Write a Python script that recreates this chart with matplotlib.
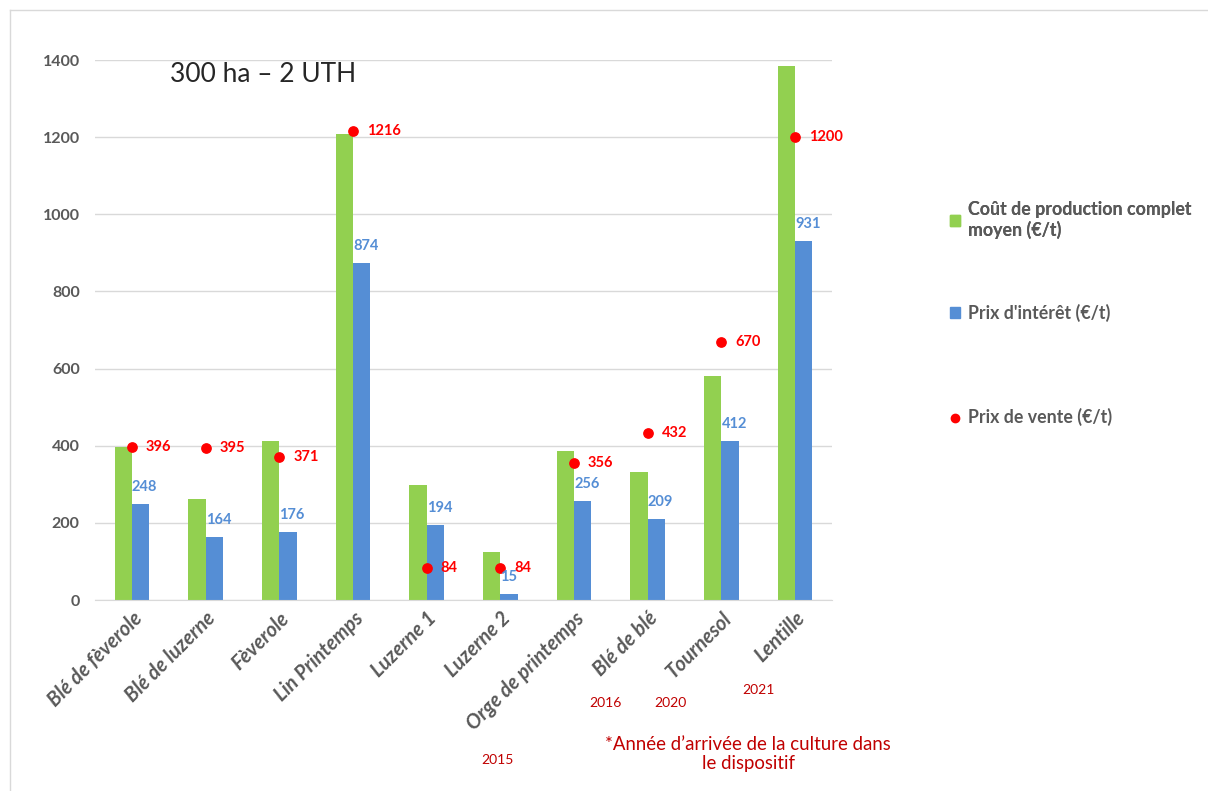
import numpy as np
import matplotlib.pyplot as plt
from matplotlib.lines import Line2D
from matplotlib.patches import Patch

plt.rcParams['font.family'] = ['Lato', 'DejaVu Sans']

# Data
cultures = ['Blé de fèverole', 'Blé de luzerne', 'Fèverole', 'Lin Printemps', 'Luzerne 1',
            'Luzerne 2', 'Orge de printemps', 'Blé de blé', 'Tournesol', 'Lentille']
cout_prod = [397, 262, 412, 1207, 298, 125, 387, 331, 581, 1384]
prix_interet = [248, 164, 176, 874, 194, 15, 256, 209, 412, 931]
prix_vente = [396, 395, 371, 1216, 84, 84, 356, 432, 670, 1200]
annees = {'2015': (497, 760), '2016': (605, 703), '2020': (670, 703), '2021': (758, 690)}

green = '#92D050'
blue = '#558ED5'
red = '#FF0000'
grey = '#595959'

W, H = 1208, 791
fig = plt.figure(figsize=(W / 100, H / 100), dpi=100)
ax = fig.add_axes([95 / W, 1 - 600 / H, (832 - 95) / W, 540 / H])

x = np.arange(len(cultures))
bw = 0.235
ax.bar(x - bw / 2, cout_prod, bw, color=green, zorder=2)
ax.bar(x + bw / 2, prix_interet, bw, color=blue, zorder=2)
ax.scatter(x, prix_vente, s=45, color=red, zorder=4)

# labels
for xi, v in zip(x, prix_interet):
    ax.annotate(str(v), (xi, v), xytext=(0, 17), textcoords='offset pixels',
                ha='left', va='center', color=blue, fontsize=10.5, fontweight='bold', zorder=5)
for xi, v in zip(x, prix_vente):
    ax.annotate(str(v), (xi, v), xytext=(14, 0), textcoords='offset pixels',
                ha='left', va='center', color=red, fontsize=10.5, fontweight='bold', zorder=5)

ax.set_xlim(-0.5, len(cultures) - 0.5)
ax.set_ylim(0, 1400)
ax.set_yticks(range(0, 1401, 200))
ax.yaxis.grid(True, color='#D9D9D9', linewidth=1, zorder=0)
ax.set_axisbelow(True)
for s in ['top', 'right', 'left']:
    ax.spines[s].set_visible(False)
ax.spines['bottom'].set_color('#D9D9D9')
ax.tick_params(axis='both', length=0)
ax.tick_params(axis='y', pad=11, labelcolor=grey, labelsize=11.5)
for lab in ax.get_yticklabels():
    lab.set_fontweight('bold')
ax.set_xticks(x)
ax.set_xticklabels(cultures, rotation=45, ha='right', va='top', rotation_mode='anchor',
                   fontsize=14.5, fontweight='bold', fontstyle='italic', color=grey)
ax.tick_params(axis='x', pad=6)

ax.text(170 / W, 1 - 75 / H, '300 ha – 2 UTH', transform=fig.transFigure, fontsize=19,
        color='#262626', ha='left', va='center')

# years
for t, (px, py) in annees.items():
    fig.text(px / W, 1 - py / H, t, color='#C00000', fontsize=10, ha='center', va='center')
fig.text(748 / W, 1 - 754 / H, '*Année d’arrivée de la culture dans\nle dispositif', color='#C00000',
         fontsize=13.4, ha='center', va='center', linespacing=1.15)

# legend (two pieces, the spacing in the original is uneven)
handles = [Patch(color=green), Patch(color=blue),
           Line2D([], [], marker='o', color=red, linestyle='none', markersize=6)]
labels = ['Coût de production complet\nmoyen (€/t)', "Prix d'intérêt (€/t)", 'Prix de vente (€/t)']
leg_kw = dict(loc='upper left', frameon=False, fontsize=12.8, handlelength=0.55,
              handleheight=0.55, handletextpad=0.45, alignment='left')
leg1 = fig.legend(handles[:1], labels[:1], bbox_to_anchor=(934 / W, 1 - 185 / H), **leg_kw)
leg2 = fig.legend(handles[1:], labels[1:], bbox_to_anchor=(934 / W, 1 - 288 / H),
                  labelspacing=4.85, **leg_kw)
fig.add_artist(leg1)
for leg in (leg1, leg2):
    for t in leg.get_texts():
        t.set_color(grey)
        t.set_fontweight('bold')

# frame around the chart
fig.add_artist(Line2D([10 / W, 10 / W], [0, 1 - 10 / H], color='#D9D9D9', linewidth=1,
                      transform=fig.transFigure))
fig.add_artist(Line2D([10 / W, 1], [1 - 10 / H, 1 - 10 / H], color='#D9D9D9', linewidth=1,
                      transform=fig.transFigure))

fig.savefig('out.png', dpi=100)
